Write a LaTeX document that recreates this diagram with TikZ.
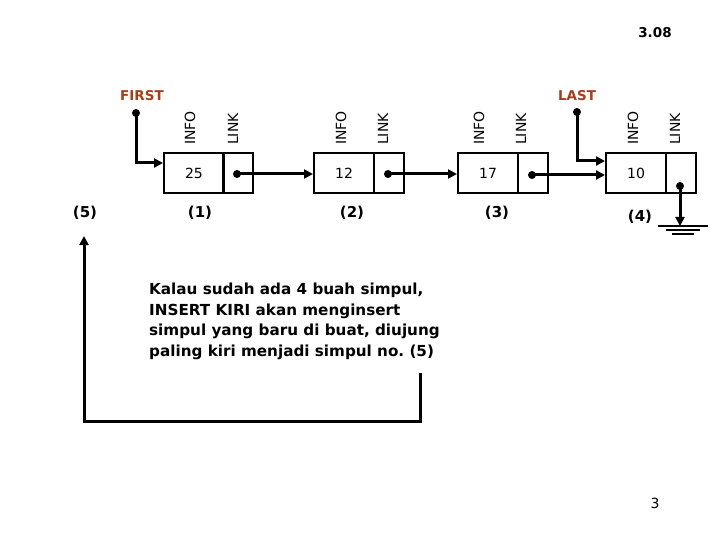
\documentclass[tikz,border=0pt]{standalone}
\usepackage{fontspec}
\setmainfont{DejaVu Sans}
\usetikzlibrary{arrows.meta}
\definecolor{brownlbl}{RGB}{165,62,25}
\frenchspacing
\begin{document}
\begin{tikzpicture}[x=1pt,y=-1pt,
  infobox/.style={draw,line width=2pt,minimum width=60pt,minimum height=40pt,inner sep=0pt,font=\fontsize{14}{15}\selectfont},
  linkbox/.style={draw,line width=2pt,minimum width=30pt,minimum height=40pt,inner sep=0pt},
  fieldlbl/.style={rotate=90,anchor=west,font=\fontsize{14}{16}\selectfont,inner sep=0pt},
  ptr/.style={line width=3pt,-{Triangle[length=9pt,width=9pt]}},
  dotmark/.style={fill,circle,minimum size=8pt,inner sep=0pt},
  numlbl/.style={font=\bfseries\fontsize{15}{17}\selectfont},
  headlbl/.style={font=\bfseries\fontsize{13.5}{15}\selectfont,text=brownlbl},
  gnd/.style={line width=2pt}
]
\useasboundingbox (0,0) rectangle (720,540);

% node boxes
\node[infobox] (i1) at (194,173) {25};
\node[linkbox] (l1) at (238,173) {};
\node[infobox] (i2) at (344,173) {12};
\node[linkbox] (l2) at (389,173) {};
\node[infobox] (i3) at (488,173) {17};
\node[linkbox] (l3) at (533,173) {};
\node[infobox] (i4) at (636,173) {10};
\node[linkbox] (l4) at (681,173) {};

% field labels
\node[fieldlbl] (f1a) at (190,145) {INFO};
\node[fieldlbl] (f1b) at (233,145) {LINK};
\node[fieldlbl] (f2a) at (341,145) {INFO};
\node[fieldlbl] (f2b) at (383,145) {LINK};
\node[fieldlbl] (f3a) at (479,145) {INFO};
\node[fieldlbl] (f3b) at (521,145) {LINK};
\node[fieldlbl] (f4a) at (633,145) {INFO};
\node[fieldlbl] (f4b) at (675,145) {LINK};

% numbers
\node[numlbl] (n5) at (85,213) {(5)};
\node[numlbl] (n1) at (200,213) {(1)};
\node[numlbl] (n2) at (352,213) {(2)};
\node[numlbl] (n3) at (497,213) {(3)};
\node[numlbl] (n4) at (640,217) {(4)};

% FIRST / LAST
\node[headlbl] (first) at (142,96) {FIRST};
\node[headlbl] (last) at (577,96) {LAST};
\node[dotmark] (fd) at (136,113) {};
\node[dotmark] (ld) at (577,112) {};
\draw[ptr] (fd.center) |- ([yshift=10pt]i1.west);
\draw[ptr] (ld.center) |- ([yshift=12pt]i4.west);

% link dots and pointers
\node[dotmark] (d1) at (237,174) {};
\node[dotmark] (d2) at (388,174) {};
\node[dotmark] (d3) at (532,175) {};
\node[dotmark] (d4) at (680,186) {};
\draw[ptr] (d1.center) -- (i2.west |- d1.center);
\draw[ptr] (d2.center) -- (i3.west |- d2.center);
\draw[ptr] (d3.center) -- (i4.west |- d3.center);

% ground
\coordinate (g0) at (680,226);
\draw[ptr] (d4.center) -- (g0);
\draw[gnd] (658,226) -- (708,226);
\draw[gnd] (666,230) -- (700,230);
\draw[gnd] (672,234) -- (694,234);

% text
\node[anchor=north west,align=left,inner sep=0pt,font=\bfseries\fontsize{15.2}{20.5}\selectfont] (txt) at (149,283)
{Kalau sudah ada 4 buah simpul,\\INSERT KIRI akan menginsert\\simpul yang baru di buat, diujung\\paling kiri menjadi simpul no. (5)};

% loop arrow
\coordinate (a0) at (420,373);
\coordinate (a1) at (420,421);
\coordinate (a2) at (84,421);
\coordinate (a3) at (84,236);
\draw[ptr] (a0) -- (a1) -- (a2) -- (a3);

\node[font=\bfseries\fontsize{13.5}{15}\selectfont] (hdr) at (655,33) {3.08};
\node[font=\fontsize{14}{16}\selectfont] (pg) at (655,503) {3};
\end{tikzpicture}
\end{document}
